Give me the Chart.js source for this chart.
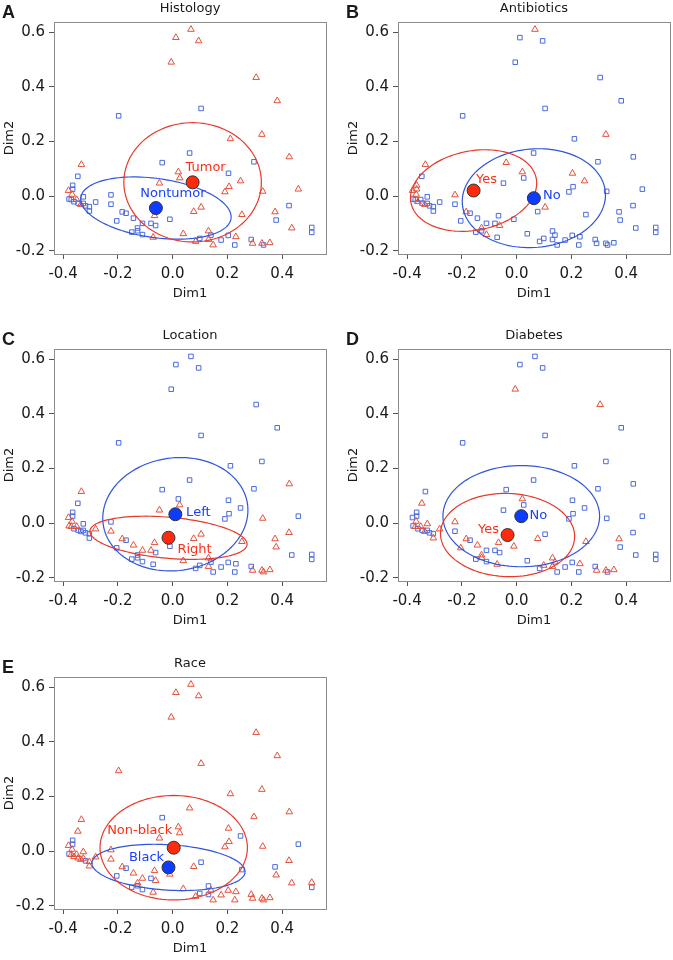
<!DOCTYPE html>
<html>
<head>
<meta charset="utf-8">
<script src="https://cdn.jsdelivr.net/npm/chart.js@4.4.1/dist/chart.umd.min.js"></script>
<style>
  body { margin: 0; background: #fff; width: 673px; height: 960px; position: relative; overflow: hidden; font-family: "DejaVu Sans", sans-serif; }
  .panel { position: absolute; width: 336px; height: 302px; }
  .panel canvas { position: absolute; left: 0; top: 0; }
  .letter { position: absolute; left: 2px; top: 3px; font: bold 18px "Liberation Sans", Arial, sans-serif; line-height: 18px; color: #1a1a1a; }
  .title { position: absolute; left: 54px; width: 272px; top: 0; text-align: center; font-size: 13px; line-height: 15px; color: #1a1a1a; }
</style>
</head>
<body>
<script>
// individual coordinates (same cloud in every panel)
var dim1 = [0.067, 0.012, 0.095, -0.005, 0.305, 0.382, 0.104, -0.197, 0.211, 0.326,
            0.062, 0.426, 0.297, -0.038, -0.333, 0.204, 0.021, 0.026, -0.346, 0.248,
            -0.048, 0.206, 0.191, 0.329, 0.459, -0.365, -0.365, -0.380, -0.367, -0.378,
            -0.370, -0.360, -0.350, -0.345, -0.335, -0.326, -0.326, -0.318, -0.304, -0.304,
            -0.281, -0.225, -0.225, -0.204, -0.184, -0.170, -0.143, -0.110, -0.128, -0.128,
            -0.149, -0.110, -0.079, -0.066, -0.062, -0.071, -0.010, 0.039, 0.077, 0.104,
            0.084, 0.099, 0.131, 0.131, 0.140, 0.148, 0.177, 0.203, 0.231, 0.227,
            0.253, 0.287, 0.292, 0.326, 0.332, 0.355, 0.374, 0.378, 0.425, 0.435,
            0.508, 0.508];
var dim2 = [0.610, 0.580, 0.568, 0.490, 0.434, 0.349, 0.321, 0.294, 0.210, 0.226,
            0.158, 0.144, 0.126, 0.123, 0.116, 0.084, 0.089, 0.067, 0.073, 0.056,
            0.048, 0.035, 0.016, 0.018, 0.026, 0.040, 0.026, 0.021, 0.007, -0.010,
            -0.012, -0.020, -0.012, -0.025, -0.030, -0.002, -0.026, -0.035, -0.038, -0.054,
            -0.021, 0.005, -0.029, -0.090, -0.057, -0.062, -0.080, -0.099, -0.116, -0.126,
            -0.131, -0.140, -0.099, -0.071, -0.107, -0.150, -0.084, -0.137, -0.056, -0.040,
            -0.165, -0.154, -0.127, -0.158, -0.142, -0.178, -0.160, -0.143, -0.148, -0.178,
            -0.067, -0.158, -0.172, -0.172, -0.178, -0.170, -0.057, -0.087, -0.034, -0.116,
            -0.114, -0.132];

// group of each individual per panel: 1 = first (red) group, 0 = second (blue) group
var histologyGrp = [1,1,1,1,1,1,0,0,1,1, 0,1,0,0,1,0,1,1,0,1, 1,1,1,1,1,0,0,1,1,0,
                    0,0,1,0,1,0,0,0,0,0, 0,0,0,0,0,0,0,0,0,0, 0,0,0,1,0,1,0,1,1,1,
                    1,0,1,1,0,1,0,0,1,0, 1,0,1,1,0,1,1,0,0,1, 0,0];
var antibioticsGrp = [1,0,0,0,0,0,0,0,0,1, 0,0,0,1,1,1,1,0,0,1, 0,0,0,0,0,1,1,1,1,0,
                      0,1,0,0,1,0,0,0,0,0, 0,1,0,0,1,0,0,0,1,0, 0,1,0,0,1,0,0,0,0,1,
                      0,0,0,0,0,0,0,0,0,0, 0,0,0,0,0,0,0,0,0,0, 0,0];
var locationGrp = [0,0,0,0,0,0,0,0,0,0, 0,1,0,0,1,0,0,1,0,0, 1,0,0,1,0,0,0,1,1,1,
                   1,0,1,0,0,0,0,0,0,0, 1,0,1,0,1,0,1,1,0,0, 0,0,1,1,0,0,0,1,1,1,
                   0,0,1,1,0,0,0,0,0,0, 1,0,1,1,1,1,1,1,1,0, 0,0];
var diabetesGrp = [0,0,0,1,1,0,0,0,0,0, 0,0,0,0,0,0,1,0,1,0, 0,0,0,0,0,0,0,0,1,0,
                   1,0,1,0,1,1,0,0,0,1, 1,1,0,1,1,0,1,0,1,1, 0,0,0,1,0,1,1,0,1,0,
                   0,1,1,1,1,0,0,0,1,0, 1,0,1,1,0,1,1,0,0,0, 0,0];
var raceGrp = [1,1,1,1,1,1,1,1,1,1, 1,1,1,0,1,1,1,1,1,0, 1,1,1,1,0,0,0,1,1,0,
               1,1,1,1,1,1,1,0,1,1, 1,1,1,0,1,0,1,1,1,0, 0,0,0,1,1,1,1,1,1,0,
               1,0,0,0,1,1,1,1,1,1, 0,1,1,1,1,1,0,1,1,1, 1,0];

var panelLetters = ["A", "B", "C", "D", "E"];
var panelTitles = ["Histology", "Antibiotics", "Location", "Diabetes", "Race"];
var groupNames = [["Tumor", "Nontumor"], ["Yes", "No"], ["Right", "Left"], ["Yes", "No"], ["Non-black", "Black"]];

// group means and ellipse sizes (red, blue)
var centroidX = [[0.073, -0.061], [-0.157, 0.063], [-0.015, 0.010], [-0.033, 0.017], [0.004, -0.015]];
var centroidY = [[0.051, -0.043], [0.021, -0.007], [-0.053, 0.033], [-0.043, 0.026], [0.013, -0.059]];
var ellipseA = [[0.251, 0.277], [0.233, 0.262], [0.288, 0.266], [0.245, 0.286], [0.269, 0.280]];
var ellipseB = [[0.218, 0.108], [0.145, 0.180], [0.075, 0.206], [0.152, 0.185], [0.191, 0.083]];
var ellipseAngle = [[0, -8], [11, 5], [-5, 8], [-2, 0], [0, -3.5]];

var groups = [histologyGrp, antibioticsGrp, locationGrp, diabetesGrp, raceGrp];

var FONT = '"DejaVu Sans", sans-serif';
var RED = "#e4503a", BLUE = "#4a6ade";
var RED_LINE = "#e8382a", BLUE_LINE = "#2f55dc";
var RED_DOT = "#ff2a0c", BLUE_DOT = "#0b3cff";
var RED_TXT = "#ff2c18", BLUE_TXT = "#1a40ff";

var panelPos = [[0, 0], [344, 0], [0, 327], [344, 327], [0, 655]];
var labelOffset = [[[13, -15], [17, -14]], [[13, -11], [18, -3]], [[26, 12], [23, -2]],
                   [[-19, -5], [17, -1]], [[-34, -17], [-22, -10]]];

function fmt(v) {
    if (Math.abs(v) < 1e-9) return "0.0";
    return v.toFixed(1);
}

function makePanel(i) {
    var div = document.createElement("div");
    div.className = "panel";
    div.style.left = panelPos[i][0] + "px";
    div.style.top = panelPos[i][1] + "px";
    var canvas = document.createElement("canvas");
    canvas.width = 336;
    canvas.height = 302;
    div.appendChild(canvas);
    var letter = document.createElement("div");
    letter.className = "letter";
    letter.textContent = panelLetters[i];
    div.appendChild(letter);
    var title = document.createElement("div");
    title.className = "title";
    title.textContent = panelTitles[i];
    div.appendChild(title);
    document.body.appendChild(div);

    var g = groups[i];
    var tri = [], sq = [];
    for (var k = 0; k < dim1.length; k++) {
        (g[k] ? tri : sq).push({x: dim1[k], y: dim2[k]});
    }
    var cents = [
        {x: centroidX[i][0], y: centroidY[i][0]},
        {x: centroidX[i][1], y: centroidY[i][1]}
    ];

    var boxPlugin = {
        id: "box",
        beforeDatasetsDraw: function(chart) {
            var a = chart.chartArea, ctx = chart.ctx;
            ctx.save();
            ctx.strokeStyle = "#8c8c8c";
            ctx.lineWidth = 1;
            ctx.strokeRect(Math.round(a.left) + 0.5, Math.round(a.top) + 0.5,
                           Math.round(a.right - a.left), Math.round(a.bottom - a.top));
            ctx.restore();
        }
    };

    var ellipsePlugin = {
        id: "ellipses",
        beforeDatasetDraw: function(chart, args) {
            if (args.index !== 2) return;
            var ctx = chart.ctx, a = chart.chartArea;
            var xs = chart.scales.x, ys = chart.scales.y;
            ctx.save();
            ctx.beginPath();
            ctx.rect(a.left, a.top, a.right - a.left, a.bottom - a.top);
            ctx.clip();
            [1, 0].forEach(function(j) {
                var th = ellipseAngle[i][j] * Math.PI / 180;
                var ea = ellipseA[i][j], eb = ellipseB[i][j];
                ctx.beginPath();
                for (var s = 0; s <= 120; s++) {
                    var t = s / 120 * 2 * Math.PI;
                    var ex = centroidX[i][j] + ea * Math.cos(t) * Math.cos(th) - eb * Math.sin(t) * Math.sin(th);
                    var ey = centroidY[i][j] + ea * Math.cos(t) * Math.sin(th) + eb * Math.sin(t) * Math.cos(th);
                    var px = xs.getPixelForValue(ex), py = ys.getPixelForValue(ey);
                    if (s === 0) ctx.moveTo(px, py); else ctx.lineTo(px, py);
                }
                ctx.strokeStyle = j === 0 ? RED_LINE : BLUE_LINE;
                ctx.lineWidth = 1.2;
                ctx.stroke();
            });
            ctx.restore();
        },
        afterDatasetsDraw: function(chart) {
            var ctx = chart.ctx;
            var xs = chart.scales.x, ys = chart.scales.y;
            ctx.save();
            ctx.font = "13px " + FONT;
            ctx.textAlign = "center";
            ctx.textBaseline = "middle";
            [0, 1].forEach(function(j) {
                var px = xs.getPixelForValue(centroidX[i][j]);
                var py = ys.getPixelForValue(centroidY[i][j]);
                ctx.fillStyle = j === 0 ? RED_TXT : BLUE_TXT;
                ctx.fillText(groupNames[i][j], px + labelOffset[i][j][0], py + labelOffset[i][j][1]);
            });
            ctx.restore();
        }
    };

    new Chart(canvas, {
        type: "scatter",
        data: {
            datasets: [
                {
                    label: groupNames[i][0], data: tri, order: 2,
                    pointStyle: "triangle", pointRadius: 3.8, pointBorderWidth: 1,
                    pointBorderColor: RED, borderColor: RED, pointBackgroundColor: "rgba(0,0,0,0)", backgroundColor: "rgba(0,0,0,0)"
                },
                {
                    label: groupNames[i][1], data: sq, order: 2,
                    pointStyle: "rect", pointRadius: 3.2, pointBorderWidth: 1,
                    pointBorderColor: BLUE, borderColor: BLUE, pointBackgroundColor: "rgba(0,0,0,0)", backgroundColor: "rgba(0,0,0,0)"
                },
                {
                    label: "centroids", data: cents, order: 1,
                    pointStyle: "circle", pointRadius: 6.5, pointBorderWidth: 1,
                    pointBorderColor: "#333", pointBackgroundColor: [RED_DOT, BLUE_DOT]
                }
            ]
        },
        options: {
            responsive: false,
            animation: false,
            events: [],
            devicePixelRatio: 1,
            layout: { padding: { top: 22, right: 10, left: 0, bottom: 0 } },
            plugins: { legend: { display: false }, tooltip: { enabled: false } },
            scales: {
                x: {
                    type: "linear", min: -0.433, max: 0.56,
                    afterFit: function(s) { s.height = 48; },
                    ticks: { stepSize: 0.2, includeBounds: false, padding: 6, color: "#1a1a1a",
                             font: { size: 15, family: FONT }, callback: fmt, maxRotation: 0 },
                    grid: { drawOnChartArea: false, drawTicks: true, tickLength: 5, tickColor: "#555" },
                    border: { display: false },
                    title: { display: true, text: "Dim1", color: "#1a1a1a", font: { size: 13, family: FONT },
                             padding: { top: 0, bottom: 1 } }
                },
                y: {
                    type: "linear", min: -0.211, max: 0.637,
                    afterFit: function(s) { s.width = 54; },
                    ticks: { stepSize: 0.2, includeBounds: false, padding: 4, color: "#1a1a1a",
                             font: { size: 15, family: FONT }, callback: fmt },
                    grid: { drawOnChartArea: false, drawTicks: true, tickLength: 5, tickColor: "#555" },
                    border: { display: false },
                    title: { display: true, text: "Dim2", color: "#1a1a1a", font: { size: 13, family: FONT },
                             padding: { top: 2, bottom: 0 } }
                }
            }
        },
        plugins: [boxPlugin, ellipsePlugin]
    });
}

for (var p = 0; p < 5; p++) makePanel(p);
</script>
</body>
</html>
